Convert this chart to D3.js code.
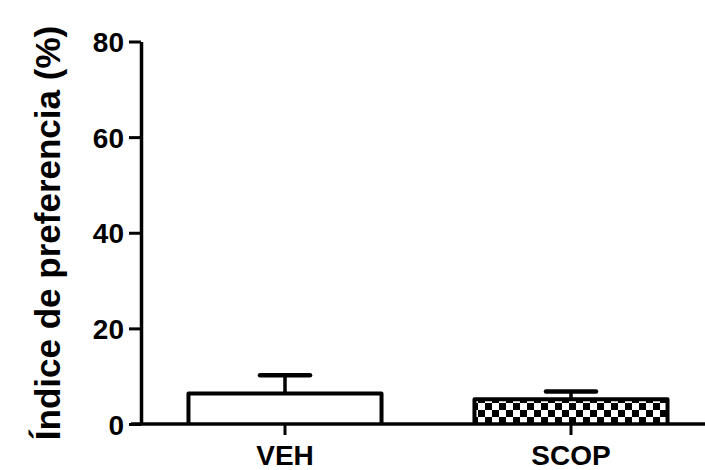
<!DOCTYPE html>
<html>
<head>
<meta charset="utf-8">
<script src="https://cdn.jsdelivr.net/npm/d3@7"></script>
<style>
  html, body { margin: 0; padding: 0; background: #fff; }
  svg { display: block; }
  text { font-family: "Liberation Sans", Arial, Helvetica, sans-serif; font-weight: bold; fill: #000; }
</style>
</head>
<body>
<svg id="chart" width="705" height="470"></svg>
<script>
const categories = ["VEH", "SCOP"];
const means = [6.4, 5.2];
const sems = [3.8, 1.6];
const yTicks = [0, 20, 40, 60, 80];
const yLabel = "Índice de preferencia (%)";
const fills = ["white", "url(#checker)"];

const svg = d3.select("#chart");
const W = 705, H = 470;

// checker pattern
const defs = svg.append("defs");
const pat = defs.append("pattern").attr("id", "checker")
  .attr("patternUnits", "userSpaceOnUse")
  .attr("width", 14).attr("height", 14)
  .attr("x", 2).attr("y", 403);
pat.append("rect").attr("width", 14).attr("height", 14).attr("fill", "#000");
pat.append("rect").attr("x", 0).attr("y", 0).attr("width", 7).attr("height", 7).attr("fill", "#fff");
pat.append("rect").attr("x", 7).attr("y", 7).attr("width", 7).attr("height", 7).attr("fill", "#fff");

const axisX = 141, axisY = 424;
const y = d3.scaleLinear().domain([0, 80]).range([axisY, 41.5]);
const x = d3.scaleBand().domain(categories).range([axisX, 715])
  .paddingInner(0.325).paddingOuter(0.166);

const g = svg.append("g");

// bars
categories.forEach((c, i) => {
  const x0 = x(c), bw = x.bandwidth();
  g.append("path")
    .attr("d", `M${x0},${axisY} L${x0},${y(means[i])} L${x0 + bw},${y(means[i])} L${x0 + bw},${axisY}`)
    .attr("fill", fills[i])
    .attr("stroke", "#000").attr("stroke-width", 4)
    .attr("stroke-linejoin", "round");
  const cx = x0 + bw / 2;
  g.append("line")
    .attr("x1", cx).attr("x2", cx)
    .attr("y1", y(means[i])).attr("y2", y(means[i] + sems[i]))
    .attr("stroke", "#000").attr("stroke-width", 3.5);
  g.append("line")
    .attr("x1", cx - 25).attr("x2", cx + 25)
    .attr("y1", y(means[i] + sems[i])).attr("y2", y(means[i] + sems[i]))
    .attr("stroke", "#000").attr("stroke-width", 4.5).attr("stroke-linecap", "round");
});

// y axis
const yAxis = d3.axisLeft(y).tickValues(yTicks).tickSize(12).tickSizeOuter(0).tickPadding(5);
const ya = svg.append("g").attr("transform", `translate(${axisX},0)`).call(yAxis);
ya.select(".domain").attr("stroke", "#000").attr("stroke-width", 3.5);
ya.selectAll(".tick line").attr("stroke", "#000").attr("stroke-width", 3);
ya.selectAll(".tick text").attr("font-size", 28).attr("font-family", null).attr("fill", "#000").attr("dy", "0.36em");

// x axis
const xAxis = d3.axisBottom(x).tickSize(11).tickSizeOuter(0).tickPadding(10);
const xa = svg.append("g").attr("transform", `translate(0,${axisY})`).call(xAxis);
xa.select(".domain").attr("stroke", "#000").attr("stroke-width", 3.5)
  .attr("d", `M${axisX - 10},0H${W + 5}`);
xa.selectAll(".tick line").attr("stroke", "#000").attr("stroke-width", 3);
xa.selectAll(".tick text").attr("font-size", 28).attr("font-family", null).attr("fill", "#000");

// y label
svg.append("text")
  .attr("transform", `translate(60,233) rotate(-90)`)
  .attr("text-anchor", "middle")
  .attr("font-size", 35)
  .text(yLabel);
</script>
</body>
</html>
